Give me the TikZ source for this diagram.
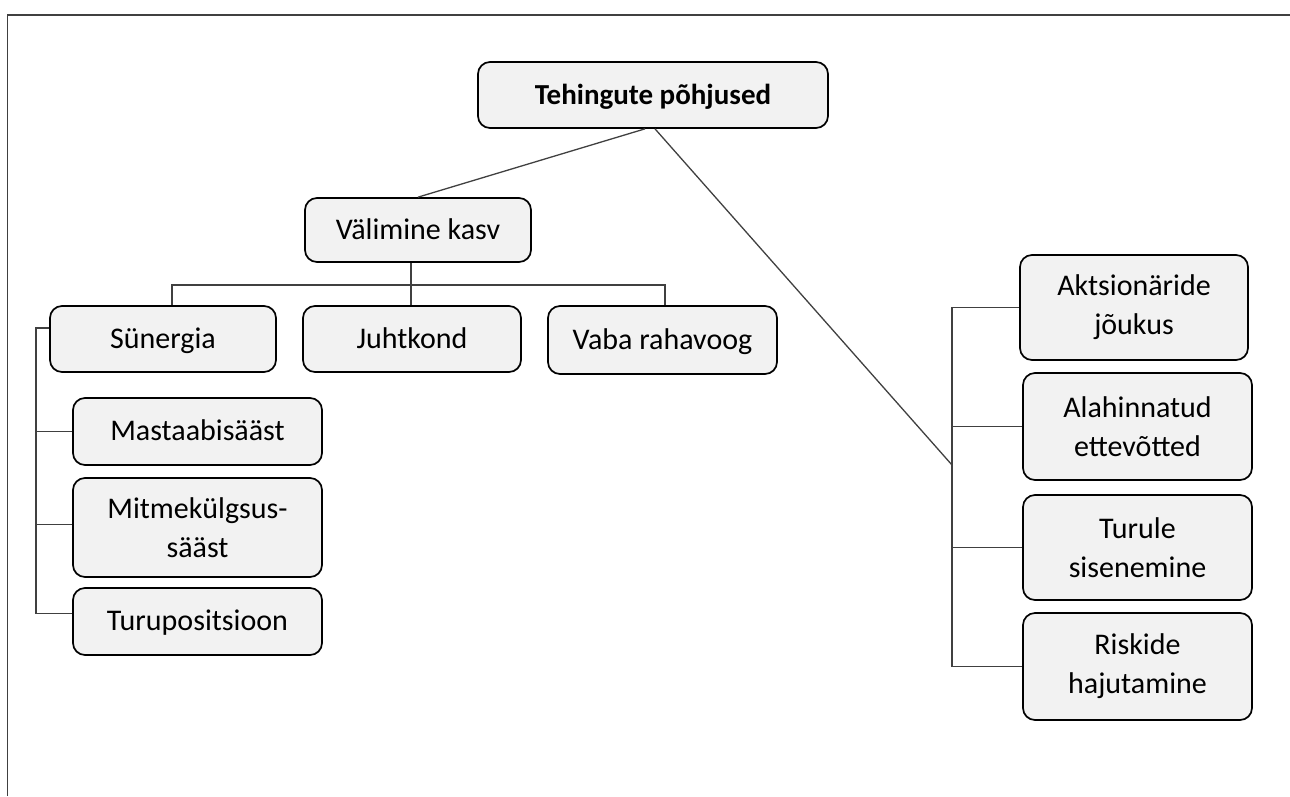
\documentclass[tikz,border=0pt]{standalone}
\usepackage{fontspec}
\setmainfont{Carlito}
\usetikzlibrary{calc}
\definecolor{boxfill}{HTML}{F2F2F2}
\definecolor{linegray}{HTML}{404040}
\tikzset{
  box/.style={draw=black, fill=boxfill, line width=1.7pt, rounded corners=12pt,
    inner sep=0pt, align=center, font=\fontsize{30}{39}\selectfont},
  single/.style={execute at begin node=\rule[-10pt]{0pt}{38pt}},
  multi/.style={execute at begin node=\rule{0pt}{30pt}},
  multilow/.style={execute at begin node=\rule{0pt}{37pt}},
  conn/.style={draw=linegray, line width=1.3pt},
  frame/.style={draw=linegray, line width=1.6pt}
}
\begin{document}
\begin{tikzpicture}[x=1pt,y=-1pt]
\useasboundingbox (0,0) rectangle (1290,796);
% frame
\coordinate (fa) at (7.5,796);
\coordinate (fb) at (7.5,15);
\coordinate (fc) at (1290,15);
\draw[frame] (fa) -- (fb) -- (fc);
% nodes
\node[box, single, minimum width=350pt, minimum height=66pt, font=\fontsize{29}{39}\selectfont\bfseries] (top) at (653,95) {Tehingute põhjused};
\node[box, single, minimum width=226pt, minimum height=64pt] (val) at (418,230) {Välimine kasv};
\node[box, single, minimum width=226pt, minimum height=66pt] (syn) at (163,339) {Sünergia};
\node[box, single, minimum width=218pt, minimum height=66pt] (juht) at (412,339) {Juhtkond};
\node[box, single, minimum width=229pt, minimum height=68pt] (vaba) at (662.5,340) {Vaba rahavoog};
\node[box, single, minimum width=249pt, minimum height=67pt] (mast) at (197.5,431.5) {Mastaabisääst};
\node[box, multilow, minimum width=249pt, minimum height=99pt] (mitm) at (197.5,527.5) {Mitmekülgsus-\\sääst};
\node[box, single, minimum width=249pt, minimum height=67pt] (turu) at (197.5,621.5) {Turupositsioon};
\node[box, multi, minimum width=228pt, minimum height=105pt] (akt) at (1134,307.5) {Aktsionäride\\jõukus};
\node[box, multi, minimum width=229pt, minimum height=107pt] (ala) at (1137.5,426.5) {Alahinnatud\\ettevõtted};
\node[box, multi, minimum width=229pt, minimum height=105pt] (tur) at (1137.5,547.5) {Turule\\sisenemine};
\node[box, multi, minimum width=229pt, minimum height=107pt] (risk) at (1137.5,666.5) {Riskide\\hajutamine};
% helper coordinates
\coordinate (rb) at (952,465);
\coordinate (lb) at (36,0);
\coordinate (bus) at (0,285);
\coordinate (vx) at (411,0);
% top to children
\draw[conn] ($(top.south)+(-8,0)$) -- (val.north);
\draw[conn] ($(top.south)+(2,0)$) -- (rb);
% right bracket
\draw[conn] (akt.west) -- (akt.west -| rb) -- (risk.west -| rb) -- (risk.west);
\draw[conn] (ala.west) -- (ala.west -| rb);
\draw[conn] (tur.west) -- (tur.west -| rb);
% bus under Valimine kasv
\draw[conn] (val.south -| vx) -- (juht.north -| vx);
\draw[conn] ($(syn.north)+(9,0)$) |- ($(vaba.north |- bus)+(2.5,0)$) -- ($(vaba.north)+(2.5,0)$);
% left bracket
\draw[conn] ($(syn.west)+(0,-11)$) -- ($(syn.west -| lb)+(0,-11)$) -- ($(turu.west -| lb)+(0,-8)$) -- ($(turu.west)+(0,-8)$);
\draw[conn] (mast.west) -- (mast.west -| lb);
\draw[conn] ($(mitm.west)+(0,-3)$) -- ($(mitm.west -| lb)+(0,-3)$);
\end{tikzpicture}
\end{document}
